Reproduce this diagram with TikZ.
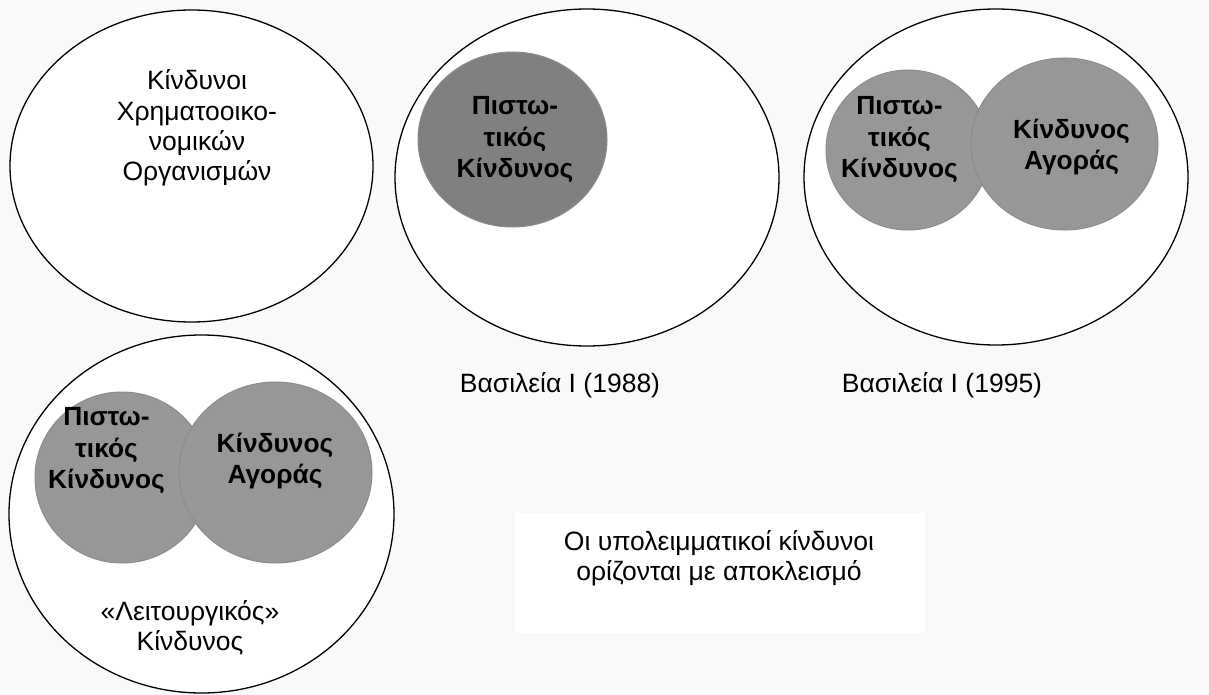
\documentclass[tikz,border=0pt]{standalone}
\usepackage{fontspec}
\setmainfont{Liberation Sans}
\usetikzlibrary{shapes.geometric}

\definecolor{pagebg}{HTML}{F9F9F9}
\definecolor{darkdisc}{HTML}{808080}
\definecolor{darkedge}{HTML}{8A8A8A}
\definecolor{disc}{HTML}{979797}
\definecolor{discedge}{HTML}{8C8C8C}

\tikzset{
  outer/.style={ellipse, draw=black, line width=1.3pt, fill=white, inner sep=0pt},
  credit/.style={ellipse, draw=darkedge, line width=1pt, fill=darkdisc, inner sep=0pt},
  riskdisc/.style={ellipse, draw=discedge, line width=1pt, fill=disc, inner sep=0pt},
  plain/.style={align=center, inner sep=0pt, font=\fontsize{26.5}{30.3}\selectfont},
  strong/.style={align=center, inner sep=0pt, font=\fontsize{26.3}{31.5}\selectfont\bfseries},
}

\begin{document}
\begin{tikzpicture}[x=1pt, y=-1pt]
  % page
  \fill[pagebg] (0,0) rectangle (1209,695);
  \useasboundingbox (0,0) rectangle (1209,695);

  % outer sets
  \node[outer, minimum width=363pt, minimum height=312pt] (all) at (191.5,166) {};
  \node[outer, minimum width=384pt, minimum height=337pt] (b88) at (587,177.5) {};
  \node[outer, minimum width=384pt, minimum height=336pt] (b95) at (996,177) {};
  \node[outer, minimum width=385pt, minimum height=358pt] (op) at (201.5,514) {};

  % inner risk discs
  \node[credit, minimum width=189pt, minimum height=175pt] (cr88) at (512.5,139.5) {};
  \node[riskdisc, minimum width=164pt, minimum height=160pt] (cr95) at (908,150) {};
  \node[riskdisc, minimum width=187pt, minimum height=172pt] (mk95) at (1064.5,144) {};
  \node[riskdisc, minimum width=174pt, minimum height=171pt] (crop) at (122,477.5) {};
  \node[riskdisc, minimum width=193pt, minimum height=181pt] (mkop) at (275.5,472.5) {};

  % texts
  \node[plain] (allt) at (197,128) {Κίνδυνοι\\Χρηματοοικο-\\νομικών\\Οργανισμών};
  \node[strong] (cr88t) at (515,140) {Πιστω-\\τικός\\Κίνδυνος};
  \node[strong] (cr95t) at (899.5,140) {Πιστω-\\τικός\\Κίνδυνος};
  \node[strong] (mk95t) at (1071.5,147) {Κίνδυνος\\Αγοράς};
  \node[strong] (cropt) at (106.5,451) {Πιστω-\\τικός\\Κίνδυνος};
  \node[strong] (mkopt) at (275,461) {Κίνδυνος\\Αγοράς};
  \node[plain] (opt) at (190,628) {«Λειτουργικός»\\Κίνδυνος};

  \node[plain] (l88) at (560,385) {Βασιλεία Ι (1988)};
  \node[plain] (l95) at (942,385) {Βασιλεία Ι (1995)};

  % residual risks note
  \node[fill=white, minimum width=410pt, minimum height=120pt, inner sep=0pt] (resbox) at (720,573) {};
  \node[plain] (rest) at (719,558) {Οι υπολειμματικοί κίνδυνοι\\ορίζονται με αποκλεισμό};
\end{tikzpicture}
\end{document}
